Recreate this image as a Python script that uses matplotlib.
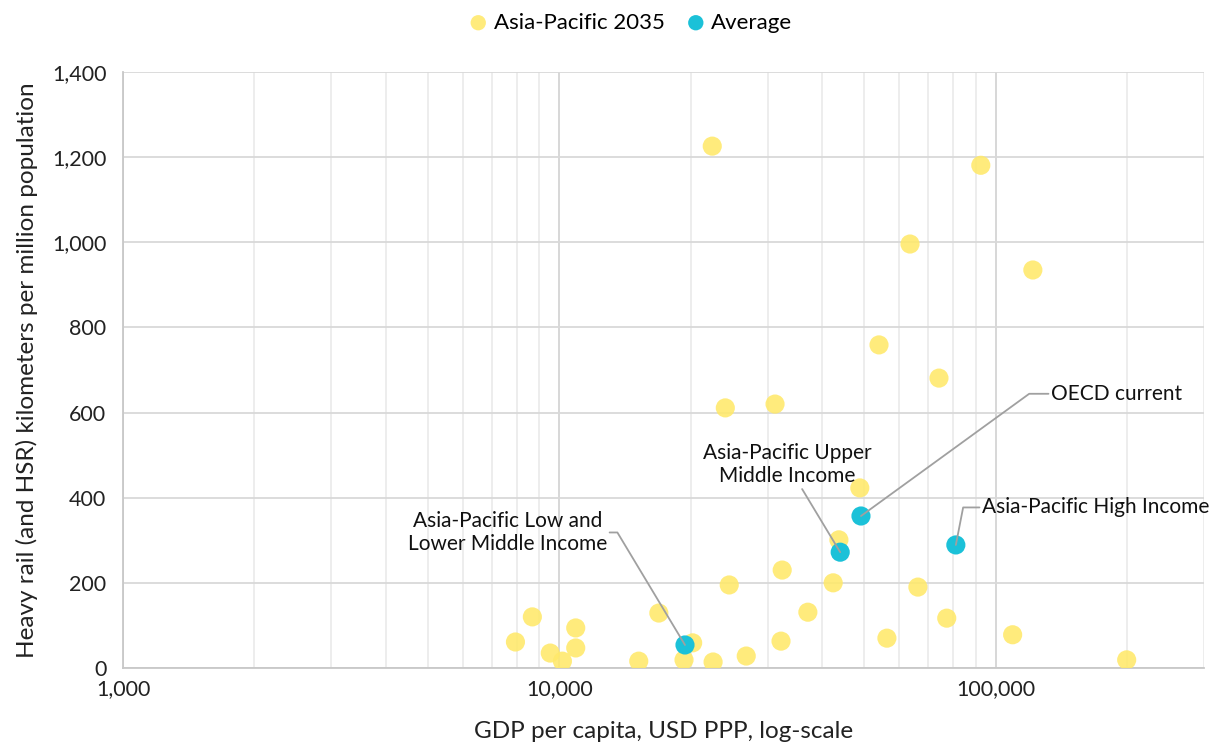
import matplotlib
matplotlib.use("Agg")
import matplotlib.pyplot as plt
from matplotlib.ticker import FuncFormatter, LogLocator, MultipleLocator

plt.rcParams['font.family'] = ['Lato', 'DejaVu Sans']

# ===============================
# Data
# ===============================
apac_gdp = [22400, 92400, 63600, 121600, 54000, 74100, 24000, 31200, 48800,
            43700, 42400, 32400, 24500, 66300, 77200, 37100, 16900, 20200,
            56300, 109300, 199500, 32200, 26800, 22500, 19300, 15200, 10900,
            10900, 10160, 9530, 8670, 7930]
apac_rail = [1226, 1181, 996, 935, 759, 681, 611, 620, 423,
             301, 200, 230, 195, 190, 117, 131, 129, 59,
             70, 78, 19, 63, 28, 14, 19, 16, 94,
             47, 16, 35, 120, 61]

avg_names = ["Asia-Pacific Low and\nLower Middle Income",
             "Asia-Pacific Upper\nMiddle Income",
             "OECD current",
             "Asia-Pacific High Income"]
avg_gdp = [19400, 44000, 49100, 81000]
avg_rail = [54, 272, 357, 289]

yellow = "#FFE96A"
cyan = "#1BC1D8"

# ===============================
# Plot
# ===============================
fig = plt.figure(figsize=(12.18, 7.43), dpi=100)
ax = fig.add_axes([0.101, 0.101, 0.8875, 0.802])

ax.scatter(apac_gdp, apac_rail, s=190, color=yellow, alpha=0.88,
           edgecolors="none", label="Asia-Pacific 2035", zorder=3)
ax.scatter(avg_gdp, avg_rail, s=190, color=cyan, edgecolors="none",
           label="Average", zorder=4)

ax.set_xscale("log")
ax.set_xlim(1000, 300000)
ax.set_ylim(0, 1400)
ax.yaxis.set_major_locator(MultipleLocator(200))
ax.xaxis.set_major_locator(LogLocator(base=10, numticks=10))
ax.xaxis.set_minor_locator(LogLocator(base=10, subs=range(2, 10), numticks=20))
fmt = FuncFormatter(lambda v, p: f"{v:,.0f}")
ax.xaxis.set_major_formatter(fmt)
ax.yaxis.set_major_formatter(fmt)
ax.xaxis.set_minor_formatter(FuncFormatter(lambda v, p: ""))

ax.grid(True, which="major", axis="x", color="#d4d4d4", lw=1.3, zorder=0)
ax.grid(True, which="minor", axis="x", color="#ececec", lw=1.3, zorder=0)
ax.grid(True, which="major", axis="y", color="#d9d9d9", lw=1.3, zorder=0)
ax.set_axisbelow(True)

for s in ["top", "right"]:
    ax.spines[s].set_visible(False)
for s in ["left", "bottom"]:
    ax.spines[s].set_color("#c8c8c8")
    ax.spines[s].set_linewidth(1.3)
ax.tick_params(which="both", length=0, labelsize=15.5, colors="#222222")
ax.tick_params(axis="y", pad=12)
ax.tick_params(axis="x", pad=8)

ax.set_xlabel("GDP per capita, USD PPP, log-scale", fontsize=17.5, labelpad=16, color="#222222")
ax.set_ylabel("Heavy rail (and HSR) kilometers per million population", fontsize=17.5,
              labelpad=10, color="#222222")

# ===============================
# Annotations (label offsets in points)
# ===============================
line_kw = dict(arrowstyle="-", color="#a0a0a0", lw=1.3, shrinkA=0, shrinkB=0)
ann_offsets = [(-128, 81), (-38, 63), (137, 88), (19, 27)]
ann_aligns = ["center", "center", "left", "left"]
ann_conn = ["angle,angleA=0,angleB=121,rad=0", "arc3",
            "angle,angleA=0,angleB=36,rad=0", "angle,angleA=0,angleB=79,rad=0"]
for name, gx, ry, off, ha, cs in zip(avg_names, avg_gdp, avg_rail, ann_offsets,
                                     ann_aligns, ann_conn):
    ax.annotate(name, xy=(gx, ry), xytext=off, textcoords="offset points",
                ha=ha, va="center", fontsize=15, color="#111111",
                arrowprops=dict(line_kw, connectionstyle=cs), zorder=5)

leg = fig.legend(loc="upper center", bbox_to_anchor=(0.518, 1.01), ncol=2, frameon=False,
                 fontsize=16, handlelength=0.8, handletextpad=0.3, columnspacing=1.0,
                 markerscale=0.8)

fig.savefig("out.png", dpi=100)
